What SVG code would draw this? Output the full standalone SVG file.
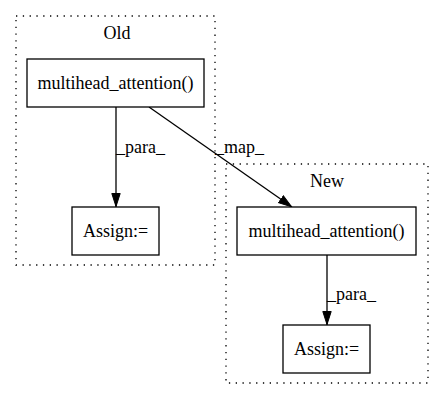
<svg xmlns="http://www.w3.org/2000/svg" width="443" height="400" viewBox="0 0 443 400">
<defs>
<marker id="arr" viewBox="0 0 14 10" refX="14" refY="5" markerWidth="14" markerHeight="10" markerUnits="userSpaceOnUse" orient="auto">
<path d="M0.5,0.8 L13.5,5 L0.5,9.2 Z" fill="#000" stroke="#000" stroke-width="1"/>
</marker>
<style>
.cl{fill:none;stroke:#000;stroke-width:1.3;stroke-dasharray:1.3,5.5}
.nd{fill:#fff;stroke:#000;stroke-width:1.3}
.e{fill:none;stroke:#000;stroke-width:1.3;marker-end:url(#arr)}
</style>
</defs>
<rect width="443" height="400" fill="#fff"/>
<g font-family="Liberation Serif, Times New Roman, serif" font-size="18" fill="#000">
<g id="cluster_old">
<rect class="cl" x="16" y="16" width="199" height="249"/>
<text x="117" y="39" text-anchor="middle">Old</text>
</g>
<g id="cluster_new">
<rect class="cl" x="226" y="164" width="202" height="219"/>
<text x="327" y="187" text-anchor="middle">New</text>
</g>
<g id="connectors">
<line class="e" x1="116" y1="107" x2="116" y2="207"/>
<text x="116" y="153">_para_</text>
<line class="e" x1="149" y1="107" x2="292" y2="207"/>
<text x="215" y="153">_map_</text>
<line class="e" x1="327" y1="255" x2="327" y2="325"/>
<text x="327" y="300">_para_</text>
</g>
<g id="old_multihead">
<rect class="nd" x="27" y="59" width="177" height="48"/>
<text x="115.5" y="89" text-anchor="middle">multihead_attention()</text>
</g>
<g id="old_assign">
<rect class="nd" x="72" y="207" width="87" height="48"/>
<text x="115.5" y="237" text-anchor="middle">Assign:=</text>
</g>
<g id="new_multihead">
<rect class="nd" x="237" y="207" width="179" height="48"/>
<text x="326.5" y="237" text-anchor="middle">multihead_attention()</text>
</g>
<g id="new_assign">
<rect class="nd" x="283" y="325" width="87" height="48"/>
<text x="326.5" y="355" text-anchor="middle">Assign:=</text>
</g>
</g>
</svg>
